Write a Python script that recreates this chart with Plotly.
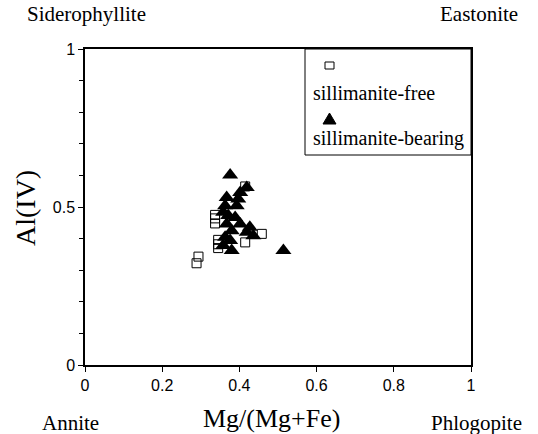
import plotly.graph_objects as go

# Data
free_x = [0.337, 0.337, 0.337, 0.415, 0.458, 0.415, 0.345, 0.345, 0.345, 0.294, 0.289]
free_y = [0.475, 0.464, 0.448, 0.565, 0.415, 0.388, 0.396, 0.382, 0.370, 0.343, 0.322]

bear_x = [0.376, 0.419, 0.402, 0.367, 0.397, 0.363, 0.393, 0.358, 0.371, 0.389,
          0.367, 0.402, 0.427, 0.380, 0.419, 0.436, 0.363, 0.376, 0.358, 0.380, 0.514]
bear_y = [0.601, 0.562, 0.546, 0.530, 0.525, 0.504, 0.504, 0.483, 0.473, 0.467,
          0.446, 0.446, 0.436, 0.425, 0.420, 0.409, 0.404, 0.394, 0.378, 0.362, 0.362]

x_ticks = [0, 0.2, 0.4, 0.6, 0.8, 1]
x_tick_labels = ["0", "0.2", "0.4", "0.6", "0.8", "1"]
y_ticks = [0, 0.5, 1]
y_tick_labels = ["0", "0.5", "1"]

series_names = ["sillimanite-free", "sillimanite-bearing"]
corner_labels = ["Siderophyllite", "Eastonite", "Annite", "Phlogopite"]
x_title = "Mg/(Mg+Fe)"
y_title = "Al(IV)"

fig = go.Figure()
fig.add_trace(go.Scatter(x=free_x, y=free_y, mode="markers", name=series_names[0],
                         marker=dict(symbol="square-open", size=9, color="black",
                                     line=dict(width=1, color="black"))))
fig.add_trace(go.Scatter(x=bear_x, y=bear_y, mode="markers", name=series_names[1],
                         marker=dict(symbol="triangle-up", size=14, color="black")))

W, H = 538, 434
ml, mr, mt, mb = 85, 67, 49, 69
pw, ph = W - ml - mr, H - mt - mb

def px(xp):
    return (xp - ml) / pw

def py(yp):
    return (H - mb - yp) / ph

serif = "Liberation Serif, Times New Roman, serif"
sans = "Liberation Sans, Arial, sans-serif"

fig.update_layout(
    width=W, height=H,
    margin=dict(l=ml, r=mr, t=mt, b=mb, pad=0),
    paper_bgcolor="white", plot_bgcolor="white",
    showlegend=False,
    xaxis=dict(range=[0, 1], tickvals=x_ticks, ticktext=x_tick_labels,
               showgrid=False, zeroline=False, showline=True, linecolor="black",
               linewidth=1.5, mirror=True, ticks="outside", ticklen=5,
               tickcolor="black", tickfont=dict(family=sans, size=16, color="black")),
    yaxis=dict(range=[0, 1], tickvals=y_ticks, ticktext=y_tick_labels,
               showgrid=False, zeroline=False, showline=True, linecolor="black",
               linewidth=1.5, mirror=True, ticks="outside", ticklen=5,
               tickcolor="black", tickfont=dict(family=sans, size=16, color="black"),
               minor=dict(tickvals=[0.1, 0.2, 0.3, 0.4, 0.6, 0.7, 0.8, 0.9],
                          ticks="outside", ticklen=4, tickcolor="black")),
)

# axis titles
fig.add_annotation(x=px(271), y=py(418), xref="paper", yref="paper", text=x_title,
                   showarrow=False, xanchor="center", yanchor="middle",
                   font=dict(family=serif, size=26, color="black"))
fig.add_annotation(x=px(25), y=py(208), xref="paper", yref="paper", text=y_title,
                   showarrow=False, xanchor="center", yanchor="middle", textangle=-90,
                   font=dict(family=serif, size=28, color="black"))

# corner labels
corner_pos = [(25, 14, "left"), (520, 14, "right"), (40, 423, "left"), (524, 423, "right")]
for txt, (x, y, anc) in zip(corner_labels, corner_pos):
    fig.add_annotation(x=px(x), y=py(y), xref="paper", yref="paper", text=txt,
                       showarrow=False, xanchor=anc, yanchor="middle",
                       font=dict(family=serif, size=21, color="black"))

# manual legend box
fig.add_shape(type="rect", xref="paper", yref="paper",
              x0=px(305), x1=px(471), y0=py(155), y1=py(49),
              line=dict(color="black", width=1), fillcolor="white", layer="above")
# legend square marker
fig.add_shape(type="rect", xref="paper", yref="paper",
              x0=px(325), x1=px(334), y0=py(69), y1=py(62),
              line=dict(color="black", width=1), fillcolor="white", layer="above")
# legend triangle marker
fig.add_shape(type="path", xref="paper", yref="paper",
              path=f"M {px(323)},{py(124)} L {px(336)},{py(124)} L {px(329.5)},{py(113)} Z",
              line=dict(color="black", width=1), fillcolor="black", layer="above")
fig.add_annotation(x=px(311), y=py(93), xref="paper", yref="paper", text=series_names[0],
                   showarrow=False, xanchor="left", yanchor="middle",
                   font=dict(family=serif, size=20, color="black"))
fig.add_annotation(x=px(311), y=py(138), xref="paper", yref="paper", text=series_names[1],
                   showarrow=False, xanchor="left", yanchor="middle",
                   font=dict(family=serif, size=20, color="black"))

fig.write_html("out.html")
